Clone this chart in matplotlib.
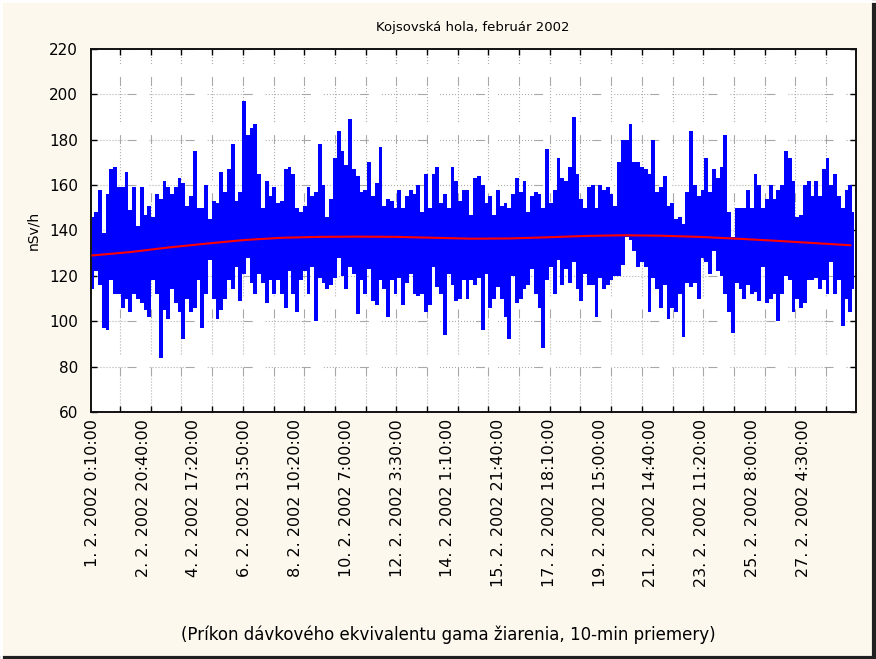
import numpy as np
import matplotlib
matplotlib.use("Agg")
import matplotlib.pyplot as plt
from matplotlib.lines import Line2D

plt.rcParams['font.family'] = ['DejaVu Sans']
plt.rcParams['lines.scale_dashes'] = False

# %%
# envelope of 10-min values, one sample per 20 cases
hi = [146, 148, 158, 139, 156, 167, 168, 159, 159, 166,
      149, 159, 142, 159, 147, 151, 146, 156, 154, 162,
      159, 156, 159, 163, 161, 151, 155, 175, 150, 150,
      160, 145, 153, 152, 166, 157, 167, 178, 153, 157,
      197, 182, 185, 187, 165, 150, 162, 155, 159, 152,
      153, 167, 168, 165, 150, 148, 151, 159, 155, 157,
      178, 160, 146, 154, 172, 184, 175, 169, 189, 167,
      164, 157, 158, 170, 155, 161, 177, 151, 154, 153,
      150, 158, 150, 155, 158, 156, 160, 148, 165, 150,
      165, 168, 152, 156, 150, 168, 162, 153, 158, 158,
      147, 163, 164, 160, 152, 155, 147, 158, 151, 152,
      150, 156, 163, 157, 162, 148, 155, 157, 156, 150,
      176, 152, 158, 172, 163, 162, 168, 190, 165, 154,
      150, 159, 160, 150, 160, 158, 159, 156, 151, 170,
      180, 180, 187, 170, 170, 168, 167, 165, 180, 157,
      159, 164, 151, 152, 145, 146, 143, 157, 184, 160,
      155, 158, 172, 157, 167, 163, 168, 182, 148, 137,
      150, 150, 150, 158, 150, 165, 160, 150, 154, 160,
      154, 158, 160, 175, 172, 162, 146, 147, 160, 162,
      155, 162, 155, 167, 172, 160, 165, 155, 150, 158,
      160, 148]
lo = [114, 122, 116, 97, 96, 118, 112, 112, 106, 110,
      104, 112, 110, 108, 105, 102, 118, 112, 84, 105,
      101, 114, 108, 104, 92, 110, 104, 106, 118, 97,
      112, 127, 110, 101, 105, 110, 118, 114, 124, 109,
      121, 128, 117, 112, 121, 117, 108, 118, 112, 118,
      112, 106, 122, 112, 104, 118, 122, 112, 124, 100,
      119, 117, 114, 116, 119, 128, 120, 114, 124, 121,
      103, 118, 112, 123, 109, 107, 118, 114, 102, 118,
      112, 119, 107, 117, 121, 112, 111, 112, 104, 107,
      124, 115, 112, 94, 121, 116, 109, 110, 118, 110,
      118, 116, 119, 96, 121, 106, 110, 115, 110, 102,
      92, 120, 108, 110, 114, 116, 123, 112, 106, 88,
      118, 124, 112, 127, 116, 123, 117, 126, 114, 109,
      121, 116, 116, 102, 119, 114, 116, 118, 120, 120,
      125, 137, 136, 131, 124, 126, 124, 104, 119, 114,
      106, 116, 101, 106, 104, 112, 93, 117, 115, 117,
      110, 128, 126, 121, 131, 122, 120, 112, 104, 95,
      117, 114, 110, 116, 112, 113, 109, 124, 108, 110,
      112, 100, 112, 120, 118, 104, 110, 106, 108, 118,
      118, 119, 114, 118, 112, 126, 112, 118, 98, 110,
      104, 114]
case_step = 20

# trend line (red), every 200 cases
trend = [129.0, 130.5, 132.5, 134.2, 135.8, 136.8, 137.2, 137.3, 137.2, 136.8, 136.4,
         136.5, 137.0, 137.6, 137.9, 137.7, 137.2, 136.4, 135.5, 134.5, 133.5]
trend_step = 200

labels = ["1. 2. 2002 0:10:00", "2. 2. 2002 20:40:00", "4. 2. 2002 17:20:00",
          "6. 2. 2002 13:50:00", "8. 2. 2002 10:20:00", "10. 2. 2002 7:00:00",
          "12. 2. 2002 3:30:00", "14. 2. 2002 1:10:00", "15. 2. 2002 21:40:00",
          "17. 2. 2002 18:10:00", "19. 2. 2002 15:00:00", "21. 2. 2002 14:40:00",
          "23. 2. 2002 11:20:00", "25. 2. 2002 8:00:00", "27. 2. 2002 4:30:00"]
label_step = 268

# %%
x = np.arange(len(hi)) * case_step
xt = np.arange(len(trend)) * trend_step

fig = plt.figure(figsize=(8.76, 6.59), dpi=100, facecolor='#fdf8ee')
ax = fig.add_axes([90.5/876, 1-412/659, (856-90.5)/876, (412-49)/659])
ax.set_facecolor('white')

ax.fill_between(x, lo, hi, step='mid', color='#0000ff', lw=0, zorder=3)
ax.plot(xt, trend, color='#ff0000', lw=1.5, zorder=4)

ax.set_xlim(-10, 4030)
ax.set_ylim(60, 220)
ax.set_yticks(np.arange(60, 221, 20))

# case labels (no tick marks) + ticks/grid on their own spacing
ax.set_xticks(np.arange(len(labels)) * label_step)
ax.set_xticklabels(labels, rotation=90, fontsize=11.5)
ax.set_xticks(np.arange(146, 4030, 162), minor=True)
ax.tick_params(axis='x', which='major', length=0, pad=5)
ax.tick_params(axis='x', which='minor', direction='in', length=4, width=1, top=True, bottom=True)
ax.tick_params(axis='y', which='major', direction='in', length=4, width=1, left=True, right=True,
               labelsize=11, pad=9)

# dotted grid with a short dash every ~57 px
dash = (0, (0.72, 1.44) * 12 + (6.5, 9.4))
ax.grid(True, axis='x', which='minor', color='#a8a8a8', lw=0.8, linestyle=dash, zorder=1)
ax.grid(True, axis='y', which='major', color='#a8a8a8', lw=0.8, linestyle=dash, zorder=1)
ax.grid(False, axis='x', which='major')
ax.set_axisbelow(True)
for s in ax.spines.values():
    s.set_linewidth(1.4)
    s.set_color('#111111')

fig.text(473/876, 1-27/659, "Kojsovská hola, február 2002", ha='center', va='center', fontsize=9.5)
fig.text(33/876, 1-230/659, "nSv/h", ha='center', va='center', rotation=90, fontsize=10)
fig.text(448/876, 1-635/659, "(Príkon dávkového ekvivalentu gama žiarenia, 10-min priemery)",
         ha='center', va='center', fontsize=12)

# window frame
fig.add_artist(Line2D([0, 1], [0.002, 0.002], transform=fig.transFigure, color='#202020', lw=3))
fig.add_artist(Line2D([0.998, 0.998], [0, 1], transform=fig.transFigure, color='#202020', lw=3))
fig.add_artist(Line2D([0, 1], [0.998, 0.998], transform=fig.transFigure, color='white', lw=2))
fig.add_artist(Line2D([0.001, 0.001], [0, 1], transform=fig.transFigure, color='white', lw=2))

fig.savefig('out.png', dpi=100, facecolor=fig.get_facecolor())
